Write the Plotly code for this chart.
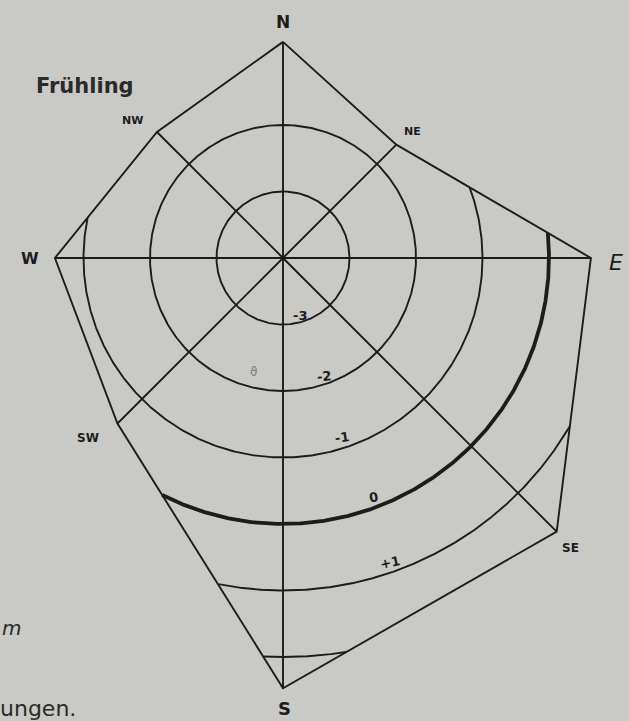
import numpy as np
import plotly.graph_objects as go

# ── Data ─────────────────────────────────────────────────────────────────────
# value at each compass direction (ring units, the centre of the rose is -4)
directions = ["N", "NE", "E", "SE", "S", "SW", "W", "NW"]
angles_deg = [90, 45, 0, -45, -90, -135, 180, 135]
values = [-0.75, -1.59, 0.63, 1.82, 2.47, -0.48, -0.57, -1.32]

levels = [-3, -2, -1, 0, 1, 2]
level_labels = ["-3", "-2", "-1", "0", "+1", ""]

CENTRE = -4
PX = 66.5  # pixels per ring unit
INK = "#1c1c1c"
PAPER = "#c9c9c5"
W, H = 629, 721
CX, CY = 283, 258  # pixel position of the centre

# ── Geometry helpers ─────────────────────────────────────────────────────────
rho = np.array(values) - CENTRE
th = np.radians(angles_deg)
pts = np.column_stack([rho * np.cos(th), rho * np.sin(th)])


def boundary_radius(theta):
    """Distance from centre to the polygon along direction theta."""
    ux, uy = np.cos(theta), np.sin(theta)
    best = np.inf
    n = len(pts)
    for i in range(n):
        p1, p2 = pts[i], pts[(i + 1) % n]
        dx, dy = p2 - p1
        den = ux * dy - uy * dx
        if abs(den) < 1e-12:
            continue
        s = (p1[0] * dy - p1[1] * dx) / den
        t = (p1[0] * uy - p1[1] * ux) / den
        if s > 0 and -1e-9 <= t <= 1 + 1e-9:
            best = min(best, s)
    return best


def arc_span(r, step=0.1):
    """Angular extent of the ring part that is connected to the south spoke."""
    lo = hi = -90.0
    while hi < 90 and boundary_radius(np.radians(hi + step)) >= r:
        hi += step
    while lo > -270 and boundary_radius(np.radians(lo - step)) >= r:
        lo -= step
    if hi >= 90 and lo <= -270:
        return -270.0, 90.0
    return lo, hi


fig = go.Figure()

# rings
for lv in levels:
    r = lv - CENTRE
    lo, hi = arc_span(r)
    t = np.radians(np.linspace(lo, hi, 500))
    fig.add_trace(go.Scatter(
        x=r * np.cos(t), y=r * np.sin(t), mode="lines",
        line=dict(color=INK, width=3.8 if lv == 0 else 1.9),
        hoverinfo="skip",
    ))

# spokes
sx, sy = [], []
for x, y in pts:
    sx += [0, x, None]
    sy += [0, y, None]
fig.add_trace(go.Scatter(x=sx, y=sy, mode="lines",
                         line=dict(color=INK, width=1.9), hoverinfo="skip"))

# outline
fig.add_trace(go.Scatter(
    x=list(pts[:, 0]) + [pts[0, 0]], y=list(pts[:, 1]) + [pts[0, 1]],
    mode="lines", line=dict(color=INK, width=1.9),
    text=directions + [directions[0]], hoverinfo="text",
))

# ── Text ─────────────────────────────────────────────────────────────────────
FONT = "DejaVu Sans"
ann = []

# direction labels: (pixel shift x, shift y, size)
dir_style = {
    "N": (0, 20, 17), "NE": (16, 13, 11), "E": (25, -4, 22), "SE": (14, -16, 12),
    "S": (1, -20, 18), "SW": (-29, -14, 12), "W": (-25, 0, 16), "NW": (-24, 11, 11),
}
for d, (x, y) in zip(directions, pts):
    dx, dy, size = dir_style[d]
    ann.append(dict(
        x=x, y=y, xref="x", yref="y", xshift=dx, yshift=dy,
        text="<i>E</i>" if d == "E" else f"<b>{d}</b>",
        showarrow=False, font=dict(family=FONT, size=size, color=INK),
    ))

# ring labels, placed in pixels
ring_pos = [(300, 315, 0), (324, 376, -5), (342, 438, -8), (373, 497, -10), (390, 562, -12)]
for lab, (px, py, ang) in zip(level_labels, ring_pos):
    ann.append(dict(
        x=px / W, y=1 - py / H, xref="paper", yref="paper", text=f"<b>{lab}</b>",
        textangle=ang, showarrow=False, font=dict(family=FONT, size=13, color=INK),
    ))

ann += [
    dict(x=85 / W, y=1 - 86 / H, text="<b>Frühling</b>",
         font=dict(family=FONT, size=21, color="#2a2a2a")),
    dict(x=253 / W, y=1 - 372 / H, text="ϑ",
         font=dict(family=FONT, size=12, color="#7a7a7a")),
    dict(x=23 / W, y=1 - 628 / H, text="<i>m</i>", xanchor="right",
         font=dict(family=FONT, size=20, color="#2a2a2a")),
    dict(x=78 / W, y=1 - 708 / H, text="ungen.", xanchor="right",
         font=dict(family=FONT, size=22, color="#2a2a2a")),
]
for a in ann:
    a.setdefault("xanchor", "center")
    a.setdefault("yanchor", "middle")
    a.setdefault("xref", "paper")
    a.setdefault("yref", "paper")
    a.setdefault("showarrow", False)

fig.update_layout(
    width=W, height=H,
    margin=dict(l=0, r=0, t=0, b=0),
    paper_bgcolor=PAPER, plot_bgcolor=PAPER,
    showlegend=False,
    xaxis=dict(range=[-CX / PX, (W - CX) / PX], visible=False, fixedrange=True),
    yaxis=dict(range=[-(H - CY) / PX, CY / PX], visible=False, fixedrange=True),
    annotations=ann,
)

fig.write_html("out.html", config={"displayModeBar": False},
               post_script="document.body.style.margin='0';")
